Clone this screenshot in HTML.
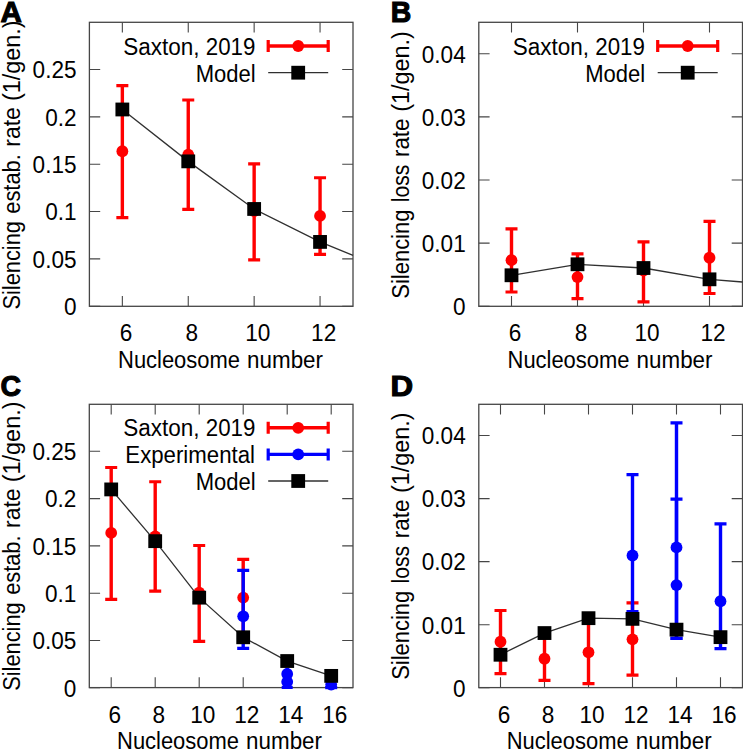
<!DOCTYPE html>
<html><head><meta charset="utf-8"><title>Silencing rates</title>
<style>
html,body{margin:0;padding:0;background:#fff;}
body{width:743px;height:750px;overflow:hidden;font-family:"Liberation Sans",sans-serif;}
svg{display:block;}
</style></head><body>
<svg width="743" height="750" viewBox="0 0 743 750">
<rect width="743" height="750" fill="#fff"/>
<g font-family="&quot;Liberation Sans&quot;, sans-serif" font-size="22.6" fill="#000">
<path d="M122.35 306.30V296.00M122.35 22.30V32.60M188.25 306.30V296.00M188.25 22.30V32.60M254.15 306.30V296.00M254.15 22.30V32.60M320.05 306.30V296.00M320.05 22.30V32.60M89.40 306.20H100.20M353.00 306.20H342.20M89.40 258.87H100.20M353.00 258.87H342.20M89.40 211.53H100.20M353.00 211.53H342.20M89.40 164.20H100.20M353.00 164.20H342.20M89.40 116.87H100.20M353.00 116.87H342.20M89.40 69.53H100.20M353.00 69.53H342.20" stroke="#464646" stroke-width="1.1" fill="none"/>
<rect x="89.40" y="22.30" width="263.60" height="284.00" stroke="#464646" stroke-width="1.30" fill="none"/>
<text transform="translate(125.95 341.20) scale(1 1.050)" text-anchor="middle">6</text>
<text transform="translate(191.85 341.20) scale(1 1.050)" text-anchor="middle">8</text>
<text transform="translate(257.75 341.20) scale(1 1.050)" text-anchor="middle">10</text>
<text transform="translate(323.65 341.20) scale(1 1.050)" text-anchor="middle">12</text>
<text transform="translate(76.60 315.00) scale(1 1.025)" text-anchor="end">0</text>
<text transform="translate(76.60 267.67) scale(1 1.025)" text-anchor="end">0.05</text>
<text transform="translate(76.60 220.33) scale(1 1.025)" text-anchor="end">0.1</text>
<text transform="translate(76.60 173.00) scale(1 1.025)" text-anchor="end">0.15</text>
<text transform="translate(76.60 125.67) scale(1 1.025)" text-anchor="end">0.2</text>
<text transform="translate(76.60 78.33) scale(1 1.025)" text-anchor="end">0.25</text>
<path d="M122.35 217.69V85.72" stroke="#ff0000" stroke-width="3.40"/>
<path d="M116.35 217.69h12.00M116.35 85.72h12.00" stroke="#ff0000" stroke-width="3.20"/>
<circle cx="122.35" cy="151.23" r="5.90" fill="#ff0000"/>
<path d="M188.25 209.45V100.02" stroke="#ff0000" stroke-width="3.40"/>
<path d="M182.25 209.45h12.00M182.25 100.02h12.00" stroke="#ff0000" stroke-width="3.20"/>
<circle cx="188.25" cy="154.73" r="5.90" fill="#ff0000"/>
<path d="M254.15 259.81V163.82" stroke="#ff0000" stroke-width="3.40"/>
<path d="M248.15 259.81h12.00M248.15 163.82h12.00" stroke="#ff0000" stroke-width="3.20"/>
<circle cx="254.15" cy="211.06" r="5.90" fill="#ff0000"/>
<path d="M320.05 254.42V177.74" stroke="#ff0000" stroke-width="3.40"/>
<path d="M314.05 254.42h12.00M314.05 177.74h12.00" stroke="#ff0000" stroke-width="3.20"/>
<circle cx="320.05" cy="215.89" r="5.90" fill="#ff0000"/>
<path d="M122.35 109.48 L188.25 161.36 L254.15 208.98 L320.05 241.92 L353.00 255.30" stroke="#303030" stroke-width="1.30" fill="none"/>
<rect x="115.45" y="102.58" width="13.80" height="13.80" fill="#000"/>
<rect x="181.35" y="154.46" width="13.80" height="13.80" fill="#000"/>
<rect x="247.25" y="202.08" width="13.80" height="13.80" fill="#000"/>
<rect x="313.15" y="235.02" width="13.80" height="13.80" fill="#000"/>
<path d="M268.20 46.00H328.20" stroke="#ff0000" stroke-width="3.40"/>
<path d="M268.20 40.00v12.00M328.20 40.00v12.00" stroke="#ff0000" stroke-width="3.20"/>
<circle cx="298.20" cy="46.00" r="5.90" fill="#ff0000"/>
<text transform="translate(123.30 55.00) scale(1 1.050)" textLength="76.28" lengthAdjust="spacingAndGlyphs">Saxton,</text>
<text transform="translate(205.81 55.00) scale(1 1.050)" textLength="49.53" lengthAdjust="spacingAndGlyphs">2019</text>
<path d="M268.20 72.70H328.20" stroke="#303030" stroke-width="1.30"/>
<rect x="291.30" y="65.80" width="13.80" height="13.80" fill="#000"/>
<text transform="translate(195.65 81.70) scale(1 1.050)" textLength="59.93" lengthAdjust="spacingAndGlyphs">Model</text>
<path d="M511.50 306.30V296.00M511.50 22.30V32.60M577.50 306.30V296.00M577.50 22.30V32.60M643.50 306.30V296.00M643.50 22.30V32.60M709.50 306.30V296.00M709.50 22.30V32.60M478.80 306.20H489.60M742.50 306.20H731.70M478.80 243.09H489.60M742.50 243.09H731.70M478.80 179.98H489.60M742.50 179.98H731.70M478.80 116.87H489.60M742.50 116.87H731.70M478.80 53.76H489.60M742.50 53.76H731.70" stroke="#464646" stroke-width="1.1" fill="none"/>
<rect x="478.80" y="22.30" width="263.70" height="284.00" stroke="#464646" stroke-width="1.30" fill="none"/>
<text transform="translate(515.10 341.20) scale(1 1.050)" text-anchor="middle">6</text>
<text transform="translate(581.10 341.20) scale(1 1.050)" text-anchor="middle">8</text>
<text transform="translate(647.10 341.20) scale(1 1.050)" text-anchor="middle">10</text>
<text transform="translate(713.10 341.20) scale(1 1.050)" text-anchor="middle">12</text>
<text transform="translate(465.70 315.00) scale(1 1.025)" text-anchor="end">0</text>
<text transform="translate(465.70 251.89) scale(1 1.025)" text-anchor="end">0.01</text>
<text transform="translate(465.70 188.78) scale(1 1.025)" text-anchor="end">0.02</text>
<text transform="translate(465.70 125.67) scale(1 1.025)" text-anchor="end">0.03</text>
<text transform="translate(465.70 62.56) scale(1 1.025)" text-anchor="end">0.04</text>
<path d="M511.50 292.00V228.83" stroke="#ff0000" stroke-width="3.40"/>
<path d="M505.50 292.00h12.00M505.50 228.83h12.00" stroke="#ff0000" stroke-width="3.20"/>
<circle cx="511.50" cy="260.13" r="5.90" fill="#ff0000"/>
<path d="M577.50 298.69V253.82" stroke="#ff0000" stroke-width="3.40"/>
<path d="M571.50 298.69h12.00M571.50 253.82h12.00" stroke="#ff0000" stroke-width="3.20"/>
<circle cx="577.50" cy="277.11" r="5.90" fill="#ff0000"/>
<path d="M643.50 301.97V241.83" stroke="#ff0000" stroke-width="3.40"/>
<path d="M637.50 301.97h12.00M637.50 241.83h12.00" stroke="#ff0000" stroke-width="3.20"/>
<circle cx="643.50" cy="270.67" r="5.90" fill="#ff0000"/>
<path d="M709.50 293.51V221.32" stroke="#ff0000" stroke-width="3.40"/>
<path d="M703.50 293.51h12.00M703.50 221.32h12.00" stroke="#ff0000" stroke-width="3.20"/>
<circle cx="709.50" cy="257.73" r="5.90" fill="#ff0000"/>
<path d="M511.50 275.28 L577.50 264.29 L643.50 268.02 L709.50 279.32 L742.50 282.00" stroke="#303030" stroke-width="1.30" fill="none"/>
<rect x="504.60" y="268.38" width="13.80" height="13.80" fill="#000"/>
<rect x="570.60" y="257.39" width="13.80" height="13.80" fill="#000"/>
<rect x="636.60" y="261.12" width="13.80" height="13.80" fill="#000"/>
<rect x="702.60" y="272.42" width="13.80" height="13.80" fill="#000"/>
<path d="M657.70 46.00H717.70" stroke="#ff0000" stroke-width="3.40"/>
<path d="M657.70 40.00v12.00M717.70 40.00v12.00" stroke="#ff0000" stroke-width="3.20"/>
<circle cx="687.70" cy="46.00" r="5.90" fill="#ff0000"/>
<text transform="translate(512.80 55.00) scale(1 1.050)" textLength="76.28" lengthAdjust="spacingAndGlyphs">Saxton,</text>
<text transform="translate(595.31 55.00) scale(1 1.050)" textLength="49.53" lengthAdjust="spacingAndGlyphs">2019</text>
<path d="M657.70 72.70H717.70" stroke="#303030" stroke-width="1.30"/>
<rect x="680.80" y="65.80" width="13.80" height="13.80" fill="#000"/>
<text transform="translate(585.15 81.70) scale(1 1.050)" textLength="59.93" lengthAdjust="spacingAndGlyphs">Model</text>
<path d="M111.20 687.60V677.30M111.20 404.30V414.60M155.20 687.60V677.30M155.20 404.30V414.60M199.20 687.60V677.30M199.20 404.30V414.60M243.20 687.60V677.30M243.20 404.30V414.60M287.20 687.60V677.30M287.20 404.30V414.60M331.20 687.60V677.30M331.20 404.30V414.60M89.30 687.80H100.10M353.00 687.80H342.20M89.30 640.50H100.10M353.00 640.50H342.20M89.30 593.20H100.10M353.00 593.20H342.20M89.30 545.90H100.10M353.00 545.90H342.20M89.30 498.60H100.10M353.00 498.60H342.20M89.30 451.30H100.10M353.00 451.30H342.20" stroke="#464646" stroke-width="1.1" fill="none"/>
<rect x="89.30" y="404.30" width="263.70" height="283.30" stroke="#464646" stroke-width="1.30" fill="none"/>
<text transform="translate(114.80 723.30) scale(1 1.050)" text-anchor="middle">6</text>
<text transform="translate(158.80 723.30) scale(1 1.050)" text-anchor="middle">8</text>
<text transform="translate(202.80 723.30) scale(1 1.050)" text-anchor="middle">10</text>
<text transform="translate(246.80 723.30) scale(1 1.050)" text-anchor="middle">12</text>
<text transform="translate(290.80 723.30) scale(1 1.050)" text-anchor="middle">14</text>
<text transform="translate(334.80 723.30) scale(1 1.050)" text-anchor="middle">16</text>
<text transform="translate(76.40 696.60) scale(1 1.025)" text-anchor="end">0</text>
<text transform="translate(76.40 649.30) scale(1 1.025)" text-anchor="end">0.05</text>
<text transform="translate(76.40 602.00) scale(1 1.025)" text-anchor="end">0.1</text>
<text transform="translate(76.40 554.70) scale(1 1.025)" text-anchor="end">0.15</text>
<text transform="translate(76.40 507.40) scale(1 1.025)" text-anchor="end">0.2</text>
<text transform="translate(76.40 460.10) scale(1 1.025)" text-anchor="end">0.25</text>
<path d="M111.20 599.35V467.48" stroke="#ff0000" stroke-width="3.40"/>
<path d="M105.20 599.35h12.00M105.20 467.48h12.00" stroke="#ff0000" stroke-width="3.20"/>
<circle cx="111.20" cy="532.94" r="5.90" fill="#ff0000"/>
<path d="M155.20 591.12V481.76" stroke="#ff0000" stroke-width="3.40"/>
<path d="M149.20 591.12h12.00M149.20 481.76h12.00" stroke="#ff0000" stroke-width="3.20"/>
<circle cx="155.20" cy="536.44" r="5.90" fill="#ff0000"/>
<path d="M199.20 641.45V545.52" stroke="#ff0000" stroke-width="3.40"/>
<path d="M193.20 641.45h12.00M193.20 545.52h12.00" stroke="#ff0000" stroke-width="3.20"/>
<circle cx="199.20" cy="592.73" r="5.90" fill="#ff0000"/>
<path d="M243.20 636.05V559.43" stroke="#ff0000" stroke-width="3.40"/>
<path d="M237.20 636.05h12.00M237.20 559.43h12.00" stroke="#ff0000" stroke-width="3.20"/>
<circle cx="243.20" cy="597.55" r="5.90" fill="#ff0000"/>
<path d="M243.20 648.35V570.31" stroke="#0000ff" stroke-width="3.40"/>
<path d="M237.20 648.35h12.00M237.20 570.31h12.00" stroke="#0000ff" stroke-width="3.20"/>
<circle cx="243.20" cy="616.28" r="5.90" fill="#0000ff"/>
<path d="M287.20 688.00V668.00" stroke="#0000ff" stroke-width="3.40"/>
<path d="M281.70 687.40h11.00" stroke="#0000ff" stroke-width="3.20"/>
<circle cx="287.20" cy="674.0" r="5.90" fill="#0000ff"/>
<circle cx="287.20" cy="681.8" r="5.90" fill="#0000ff"/>
<path d="M325.20 687.60h12.00" stroke="#0000ff" stroke-width="3.20"/>
<circle cx="331.20" cy="684.6" r="5.90" fill="#0000ff"/>
<path d="M111.20 489.42 L155.20 541.17 L199.20 597.65 L243.20 637.28 L287.20 661.03 L331.20 675.88" stroke="#303030" stroke-width="1.30" fill="none"/>
<rect x="104.30" y="482.52" width="13.80" height="13.80" fill="#000"/>
<rect x="148.30" y="534.27" width="13.80" height="13.80" fill="#000"/>
<rect x="192.30" y="590.75" width="13.80" height="13.80" fill="#000"/>
<rect x="236.30" y="630.38" width="13.80" height="13.80" fill="#000"/>
<rect x="280.30" y="654.13" width="13.80" height="13.80" fill="#000"/>
<rect x="324.30" y="668.98" width="13.80" height="13.80" fill="#000"/>
<path d="M268.20 427.80H328.20" stroke="#ff0000" stroke-width="3.40"/>
<path d="M268.20 421.80v12.00M328.20 421.80v12.00" stroke="#ff0000" stroke-width="3.20"/>
<circle cx="298.20" cy="427.80" r="5.90" fill="#ff0000"/>
<text transform="translate(123.30 436.40) scale(1 1.050)" textLength="76.28" lengthAdjust="spacingAndGlyphs">Saxton,</text>
<text transform="translate(205.81 436.40) scale(1 1.050)" textLength="49.53" lengthAdjust="spacingAndGlyphs">2019</text>
<path d="M268.20 454.40H328.20" stroke="#0000ff" stroke-width="3.40"/>
<path d="M268.20 448.40v12.00M328.20 448.40v12.00" stroke="#0000ff" stroke-width="3.20"/>
<circle cx="298.20" cy="454.40" r="5.90" fill="#0000ff"/>
<text transform="translate(125.33 462.50) scale(1 1.050)" textLength="129.66" lengthAdjust="spacingAndGlyphs">Experimental</text>
<path d="M268.20 481.00H328.20" stroke="#303030" stroke-width="1.30"/>
<rect x="291.30" y="474.10" width="13.80" height="13.80" fill="#000"/>
<text transform="translate(195.65 490.00) scale(1 1.050)" textLength="59.93" lengthAdjust="spacingAndGlyphs">Model</text>
<path d="M500.50 687.60V677.30M500.50 404.30V414.60M544.50 687.60V677.30M544.50 404.30V414.60M588.50 687.60V677.30M588.50 404.30V414.60M632.50 687.60V677.30M632.50 404.30V414.60M676.50 687.60V677.30M676.50 404.30V414.60M720.50 687.60V677.30M720.50 404.30V414.60M478.80 687.80H489.60M742.50 687.80H731.70M478.80 624.73H489.60M742.50 624.73H731.70M478.80 561.66H489.60M742.50 561.66H731.70M478.80 498.59H489.60M742.50 498.59H731.70M478.80 435.52H489.60M742.50 435.52H731.70" stroke="#464646" stroke-width="1.1" fill="none"/>
<rect x="478.80" y="404.30" width="263.70" height="283.30" stroke="#464646" stroke-width="1.30" fill="none"/>
<text transform="translate(504.10 723.30) scale(1 1.050)" text-anchor="middle">6</text>
<text transform="translate(548.10 723.30) scale(1 1.050)" text-anchor="middle">8</text>
<text transform="translate(592.10 723.30) scale(1 1.050)" text-anchor="middle">10</text>
<text transform="translate(636.10 723.30) scale(1 1.050)" text-anchor="middle">12</text>
<text transform="translate(680.10 723.30) scale(1 1.050)" text-anchor="middle">14</text>
<text transform="translate(724.10 723.30) scale(1 1.050)" text-anchor="middle">16</text>
<text transform="translate(465.70 696.60) scale(1 1.025)" text-anchor="end">0</text>
<text transform="translate(465.70 633.53) scale(1 1.025)" text-anchor="end">0.01</text>
<text transform="translate(465.70 570.46) scale(1 1.025)" text-anchor="end">0.02</text>
<text transform="translate(465.70 507.39) scale(1 1.025)" text-anchor="end">0.03</text>
<text transform="translate(465.70 444.32) scale(1 1.025)" text-anchor="end">0.04</text>
<path d="M500.50 673.61V610.48" stroke="#ff0000" stroke-width="3.40"/>
<path d="M494.50 673.61h12.00M494.50 610.48h12.00" stroke="#ff0000" stroke-width="3.20"/>
<circle cx="500.50" cy="641.76" r="5.90" fill="#ff0000"/>
<path d="M544.50 680.29V635.45" stroke="#ff0000" stroke-width="3.40"/>
<path d="M538.50 680.29h12.00M538.50 635.45h12.00" stroke="#ff0000" stroke-width="3.20"/>
<circle cx="544.50" cy="658.72" r="5.90" fill="#ff0000"/>
<path d="M588.50 683.57V623.47" stroke="#ff0000" stroke-width="3.40"/>
<path d="M582.50 683.57h12.00M582.50 623.47h12.00" stroke="#ff0000" stroke-width="3.20"/>
<circle cx="588.50" cy="652.29" r="5.90" fill="#ff0000"/>
<path d="M632.50 675.12V602.97" stroke="#ff0000" stroke-width="3.40"/>
<path d="M626.50 675.12h12.00M626.50 602.97h12.00" stroke="#ff0000" stroke-width="3.20"/>
<circle cx="632.50" cy="639.36" r="5.90" fill="#ff0000"/>
<path d="M632.50 611.49V474.62" stroke="#0000ff" stroke-width="3.40"/>
<path d="M626.50 611.49h12.00M626.50 474.62h12.00" stroke="#0000ff" stroke-width="3.20"/>
<circle cx="632.50" cy="555.48" r="5.90" fill="#0000ff"/>
<path d="M676.50 638.35V422.91" stroke="#0000ff" stroke-width="3.40"/>
<path d="M670.50 638.35h12.00M670.50 422.91h12.00" stroke="#0000ff" stroke-width="3.20"/>
<circle cx="676.50" cy="547.41" r="5.90" fill="#0000ff"/>
<path d="M676.50 638.35V499.22" stroke="#0000ff" stroke-width="3.40"/>
<path d="M670.50 638.35h12.00M670.50 499.22h12.00" stroke="#0000ff" stroke-width="3.20"/>
<circle cx="676.50" cy="585.06" r="5.90" fill="#0000ff"/>
<path d="M720.50 648.70V523.82" stroke="#0000ff" stroke-width="3.40"/>
<path d="M714.50 648.70h12.00M714.50 523.82h12.00" stroke="#0000ff" stroke-width="3.20"/>
<circle cx="720.50" cy="601.27" r="5.90" fill="#0000ff"/>
<path d="M500.50 654.75 L544.50 633.06 L588.50 618.17 L632.50 618.86 L676.50 629.65 L720.50 637.15" stroke="#303030" stroke-width="1.30" fill="none"/>
<rect x="493.60" y="647.85" width="13.80" height="13.80" fill="#000"/>
<rect x="537.60" y="626.16" width="13.80" height="13.80" fill="#000"/>
<rect x="581.60" y="611.27" width="13.80" height="13.80" fill="#000"/>
<rect x="625.60" y="611.96" width="13.80" height="13.80" fill="#000"/>
<rect x="669.60" y="622.75" width="13.80" height="13.80" fill="#000"/>
<rect x="713.60" y="630.25" width="13.80" height="13.80" fill="#000"/>
<text transform="translate(19.80 309.57) rotate(-90) scale(1 1.050)" textLength="88.47" lengthAdjust="spacingAndGlyphs">Silencing</text>
<text transform="translate(19.80 213.67) rotate(-90) scale(1 1.050)" textLength="59.45" lengthAdjust="spacingAndGlyphs">estab.</text>
<text transform="translate(19.80 146.72) rotate(-90) scale(1 1.050)" textLength="39.55" lengthAdjust="spacingAndGlyphs">rate</text>
<text transform="translate(19.80 101.04) rotate(-90) scale(1 1.050)" textLength="80.71" lengthAdjust="spacingAndGlyphs">(1/gen.)</text>
<text transform="translate(409.10 298.67) rotate(-90) scale(1 1.050)" textLength="89.09" lengthAdjust="spacingAndGlyphs">Silencing</text>
<text transform="translate(409.10 202.24) rotate(-90) scale(1 1.050)" textLength="37.63" lengthAdjust="spacingAndGlyphs">loss</text>
<text transform="translate(409.10 156.99) rotate(-90) scale(1 1.050)" textLength="38.50" lengthAdjust="spacingAndGlyphs">rate</text>
<text transform="translate(409.10 111.73) rotate(-90) scale(1 1.050)" textLength="80.51" lengthAdjust="spacingAndGlyphs">(1/gen.)</text>
<text transform="translate(19.80 690.77) rotate(-90) scale(1 1.050)" textLength="88.47" lengthAdjust="spacingAndGlyphs">Silencing</text>
<text transform="translate(19.80 594.87) rotate(-90) scale(1 1.050)" textLength="59.45" lengthAdjust="spacingAndGlyphs">estab.</text>
<text transform="translate(19.80 527.92) rotate(-90) scale(1 1.050)" textLength="39.55" lengthAdjust="spacingAndGlyphs">rate</text>
<text transform="translate(19.80 482.24) rotate(-90) scale(1 1.050)" textLength="80.71" lengthAdjust="spacingAndGlyphs">(1/gen.)</text>
<text transform="translate(409.10 679.87) rotate(-90) scale(1 1.050)" textLength="89.09" lengthAdjust="spacingAndGlyphs">Silencing</text>
<text transform="translate(409.10 583.44) rotate(-90) scale(1 1.050)" textLength="37.63" lengthAdjust="spacingAndGlyphs">loss</text>
<text transform="translate(409.10 538.19) rotate(-90) scale(1 1.050)" textLength="38.50" lengthAdjust="spacingAndGlyphs">rate</text>
<text transform="translate(409.10 492.93) rotate(-90) scale(1 1.050)" textLength="80.51" lengthAdjust="spacingAndGlyphs">(1/gen.)</text>
<text transform="translate(118.06 368.00) scale(1 1.050)" textLength="121.87" lengthAdjust="spacingAndGlyphs">Nucleosome</text>
<text transform="translate(247.11 368.00) scale(1 1.050)" textLength="75.87" lengthAdjust="spacingAndGlyphs">number</text>
<text transform="translate(507.56 368.00) scale(1 1.050)" textLength="121.87" lengthAdjust="spacingAndGlyphs">Nucleosome</text>
<text transform="translate(636.61 368.00) scale(1 1.050)" textLength="75.87" lengthAdjust="spacingAndGlyphs">number</text>
<text transform="translate(117.06 749.30) scale(1 1.050)" textLength="121.87" lengthAdjust="spacingAndGlyphs">Nucleosome</text>
<text transform="translate(246.11 749.30) scale(1 1.050)" textLength="75.87" lengthAdjust="spacingAndGlyphs">number</text>
<text transform="translate(506.76 749.30) scale(1 1.050)" textLength="121.87" lengthAdjust="spacingAndGlyphs">Nucleosome</text>
<text transform="translate(635.81 749.30) scale(1 1.050)" textLength="75.87" lengthAdjust="spacingAndGlyphs">number</text>
<text transform="translate(0.40 21.80) scale(1.020 1.0)" font-weight="bold" font-size="29" stroke="#000" stroke-width="1.1">A</text>
<text transform="translate(390.80 21.80) scale(0.980 1.0)" font-weight="bold" font-size="29" stroke="#000" stroke-width="1.1">B</text>
<text transform="translate(0.40 396.20) scale(0.980 1.0)" font-weight="bold" font-size="29" stroke="#000" stroke-width="1.1">C</text>
<text transform="translate(390.60 396.20) scale(1.080 1.0)" font-weight="bold" font-size="29" stroke="#000" stroke-width="1.1">D</text>
</g></svg>
</body></html>
